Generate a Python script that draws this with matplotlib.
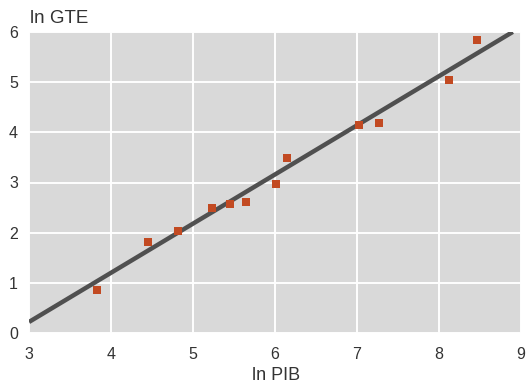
import matplotlib
matplotlib.use("Agg")
import matplotlib.pyplot as plt
import numpy as np

# Data
ln_pib = [3.83, 4.45, 4.82, 5.23, 5.45, 5.65, 6.01, 6.15, 7.02, 7.27, 8.12, 8.46]
ln_gte = [0.86, 1.81, 2.03, 2.50, 2.58, 2.62, 2.98, 3.48, 4.15, 4.19, 5.05, 5.85]
fit_intercept = -2.72
fit_slope = 0.98
x_ticks = [3, 4, 5, 6, 7, 8, 9]
y_ticks = [0, 1, 2, 3, 4, 5, 6]

plt.rcParams['font.family'] = ['Liberation Sans', 'DejaVu Sans']

fig = plt.figure(figsize=(5.27, 3.89), dpi=100)
ax = fig.add_axes([29/527, 56/389, 492/527, 301/389])
ax.set_facecolor('#d9d9d9')
ax.set_xlim(3, 9)
ax.set_ylim(0, 6)
ax.set_xticks(x_ticks)
ax.set_yticks(y_ticks)
ax.grid(True, color='white', linewidth=1.4)
ax.set_axisbelow(True)
for s in ax.spines.values():
    s.set_visible(False)
ax.tick_params(length=0, labelsize=11.5, colors='#333333')
ax.tick_params(axis='x', pad=10)
ax.tick_params(axis='y', pad=8)

xl = np.array([3.0, 8.9])
ax.plot(xl, fit_intercept + fit_slope * xl, color='#505050', linewidth=3.2,
        solid_capstyle='butt', zorder=3, clip_on=True)
ax.scatter(ln_pib, ln_gte, marker='s', s=40, color='#c24a22', zorder=4, linewidths=0)

fig.text(30/527, 1 - 23/389, 'ln GTE', fontsize=13.5, color='#333333', ha='left', va='baseline')
fig.text(276/527, 1 - 380/389, 'ln PIB', fontsize=13, color='#333333', ha='center', va='baseline')

fig.savefig('out.png', dpi=100, facecolor='white')
